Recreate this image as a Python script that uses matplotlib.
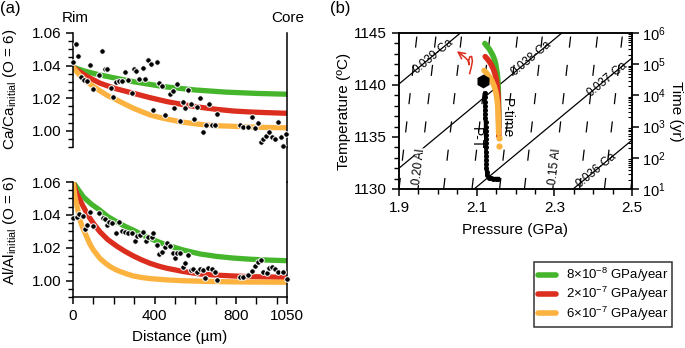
import numpy as np
import matplotlib
matplotlib.use("Agg")
import matplotlib.pyplot as plt
from matplotlib.lines import Line2D
from matplotlib.ticker import MultipleLocator, FixedLocator, LogLocator, NullFormatter

plt.rcParams['font.family'] = ['Liberation Sans', 'DejaVu Sans']
plt.rcParams['mathtext.fontset'] = 'custom'
plt.rcParams['mathtext.rm'] = 'Liberation Sans'
plt.rcParams['mathtext.it'] = 'Liberation Sans:italic'
plt.rcParams['mathtext.bf'] = 'Liberation Sans:bold'
plt.rcParams['lines.scale_dashes'] = False

# ---------------- data: panel (a) ----------------
ca_dist = [0, 15, 26, 41, 54, 70, 83, 100, 128, 141, 157, 168, 186, 198, 211, 226, 239, 255,
           272, 291, 298, 309, 326, 342, 353, 366, 381, 394, 411, 424, 439, 451, 476, 489,
           496, 509, 525, 538, 550, 566, 577, 594, 607, 623, 636, 653, 669, 680, 697, 708,
           819, 836, 860, 877, 893, 910, 921, 934, 947, 964, 975, 992, 1008, 1019, 1032, 1045]
ca_val = [1.0419, 1.0534, 1.0456, 1.0329, 1.0312, 1.0306, 1.0403, 1.0257, 1.0343, 1.0489,
          1.0380, 1.0378, 1.0265, 1.0205, 1.0298, 1.0306, 1.0308, 1.0358, 1.0310, 1.0234,
          1.0376, 1.0368, 1.0316, 1.0388, 1.0316, 1.0436, 1.0411, 1.0129, 1.0425, 1.0296,
          1.0275, 1.0097, 1.0226, 1.0242, 1.0138, 1.0286, 1.0057, 1.0175, 1.0138, 1.0247,
          1.0166, 1.0070, 1.0146, 1.0199, 0.9994, 1.0037, 1.0164, 1.0035, 1.0037, 1.0103,
          1.0037, 1.0025, 1.0020, 1.0082, 1.0016, 1.0049, 0.9930, 0.9947, 0.9967, 0.9994,
          0.9959, 0.9951, 1.0051, 0.9959, 0.9907, 0.9979]

al_dist = [0, 18, 29, 47, 59, 70, 83, 100, 129, 146, 157, 169, 178, 190, 211, 226, 239, 255,
           272, 288, 304, 316, 329, 345, 358, 370, 386, 394, 411, 424, 438, 451, 460, 476,
           489, 501, 509, 525, 538, 550, 566, 577, 591, 607, 623, 636, 648, 664, 680, 697,
           708, 820, 836, 861, 877, 893, 910, 921, 934, 950, 963, 975, 991, 1008, 1032, 1049]
al_val = [1.0382, 1.0384, 1.0408, 1.0392, 1.0311, 1.0337, 1.0418, 1.0331, 1.0414, 1.0378,
          1.0372, 1.0337, 1.0358, 1.0348, 1.0291, 1.0354, 1.0303, 1.0297, 1.0291, 1.0287,
          1.0240, 1.0271, 1.0277, 1.0297, 1.0242, 1.0267, 1.0263, 1.0287, 1.0216, 1.0162,
          1.0176, 1.0202, 1.0230, 1.0210, 1.0170, 1.0135, 1.0166, 1.0168, 1.0085, 1.0109,
          1.0158, 1.0065, 1.0069, 1.0055, 1.0069, 1.0065, 1.0014, 1.0079, 1.0069, 1.0055,
          1.0004, 1.0020, 1.0020, 1.0034, 1.0059, 1.0089, 1.0115, 1.0125, 1.0055, 1.0049,
          1.0075, 1.0085, 1.0069, 1.0051, 1.0055, 1.0012]

# model profiles (Ca)
ca_green_x = [0, 60, 130, 200, 300, 450, 600, 750, 900, 1050]
ca_green_y = [1.039, 1.0365, 1.0343, 1.0325, 1.0300, 1.0270, 1.0250, 1.0237, 1.0229, 1.0224]
ca_red_x = [0, 35, 69, 132, 210, 296, 378, 460, 541, 623, 705, 787, 870, 950, 1050]
ca_red_y = [1.039, 1.0360, 1.0333, 1.0292, 1.0258, 1.0230, 1.0203, 1.0179, 1.0160, 1.0144,
            1.0131, 1.0121, 1.0115, 1.0111, 1.0107]
ca_orange_x = [0, 30, 67, 100, 132, 170, 214, 255, 296, 337, 378, 420, 460, 525, 623, 700, 787, 870, 950, 1050]
ca_orange_y = [1.039, 1.0345, 1.0302, 1.0272, 1.0245, 1.0215, 1.0189, 1.0163, 1.0138, 1.0117,
               1.0097, 1.0083, 1.0072, 1.0055, 1.0039, 1.0031, 1.0027, 1.0023, 1.0020, 1.0018]

# model profiles (Al)
al_green_x = [0, 25, 51, 90, 132, 170, 214, 255, 296, 337, 378, 420, 460, 541, 623, 705, 787, 870, 950, 1050]
al_green_y = [1.060, 1.0555, 1.0509, 1.0465, 1.0428, 1.0390, 1.0358, 1.0330, 1.0307, 1.0280,
              1.0257, 1.0235, 1.0216, 1.0186, 1.0162, 1.0147, 1.0137, 1.0130, 1.0125, 1.0121]
al_red_x = [0, 18, 51, 75, 100, 132, 170, 214, 255, 296, 337, 378, 420, 460, 541, 623, 705, 787, 870, 950, 1050]
al_red_y = [1.060, 1.0529, 1.0449, 1.0395, 1.0348, 1.0297, 1.0250, 1.0210, 1.0178, 1.0150,
            1.0126, 1.0105, 1.0088, 1.0075, 1.0055, 1.0040, 1.0033, 1.0028, 1.0024, 1.0022, 1.0020]
al_orange_x = [0, 10, 22, 34, 50, 67, 83, 100, 132, 160, 182, 210, 231, 265, 296, 340, 378, 420, 460, 541, 623, 705, 787, 870, 1050]
al_orange_y = [1.060, 1.0509, 1.0440, 1.0368, 1.0315, 1.0267, 1.0222, 1.0186, 1.0135, 1.0105,
               1.0085, 1.0066, 1.0055, 1.0040, 1.0028, 1.0018, 1.0012, 1.0008, 1.0004, 0.9999,
               0.9996, 0.9994, 0.9992, 0.9991, 0.9990]

# ---------------- data: panel (b) ----------------
ca_iso_labels = ["0.039-Ca", "0.038-Ca", "0.037-Ca", "0.036-Ca"]
ca_iso_T_at_19 = [1140.1, 1132.0, 1124.0, 1116.1]     # T (degC) of isopleth at P = 1.9 GPa
ca_iso_T_at_25 = [1158.7, 1150.6, 1142.6, 1134.7]     # T (degC) of isopleth at P = 2.5 GPa
ca_label_P = [1.988, 2.241, 2.435, 2.408]
ca_label_T = [1142.8, 1142.6, 1140.6, 1131.85]

al_iso_P_bottom = [1.900, 1.949, 2.015, 2.088, 2.159, 2.223, 2.296, 2.365, 2.429, 2.497]  # at 1130 degC
al_iso_P_top = [1.947, 1.996, 2.062, 2.135, 2.206, 2.270, 2.343, 2.412, 2.476, 2.544]     # at 1145 degC
al_label_text = ["0.20 Al", "0.15 Al"]
al_label_P = [1.953, 2.301]
al_label_T = [1132.15, 1132.15]

pt_P = [2.121, 2.121, 2.121, 2.122, 2.122, 2.122, 2.122, 2.123, 2.123, 2.123, 2.123, 2.124,
        2.124, 2.124, 2.124, 2.125, 2.125, 2.125, 2.125, 2.126, 2.127, 2.131, 2.137, 2.143,
        2.149, 2.155]
pt_T = [1139.2, 1138.8, 1138.4, 1138.0, 1137.6, 1137.2, 1136.8, 1136.4, 1136.0, 1135.6,
        1135.2, 1134.8, 1134.4, 1134.0, 1133.6, 1133.2, 1132.8, 1132.4, 1132.0, 1131.6,
        1131.3, 1131.1, 1131.05, 1131.0, 1131.0, 1131.0]
start_P = [2.117]
start_T = [1140.35]

green_time = [4.6e5, 4.0e5, 3.0e5, 2.0e5, 1.4e5, 1.0e5, 7e4, 5e4, 3e4, 2e4, 1e4, 3e3, 1e3]
green_P = [2.121, 2.125, 2.133, 2.141, 2.146, 2.149, 2.151, 2.153, 2.1546, 2.1554, 2.156, 2.1568, 2.157]
red_time = [1.75e5, 1.5e5, 1.2e5, 1e5, 7e4, 5e4, 3e4, 2e4, 1e4, 3e3, 1e3, 5e2]
red_P = [2.122, 2.127, 2.133, 2.137, 2.143, 2.147, 2.151, 2.153, 2.155, 2.1564, 2.1568, 2.157]
orange_time = [6.3e4, 5e4, 4e4, 3e4, 2e4, 1.4e4, 1e4, 5e3, 3e3, 1e3, 6e2]
orange_P = [2.119, 2.127, 2.133, 2.139, 2.145, 2.1486, 2.151, 2.154, 2.155, 2.1564, 2.1566]
orange_dot_time = [420, 235]
orange_dot_P = [2.1567, 2.1568]

legend_labels = [r"8×10$^{\mathregular{-8}}$ GPa/year",
                 r"2×10$^{\mathregular{-7}}$ GPa/year",
                 r"6×10$^{\mathregular{-7}}$ GPa/year"]

GREEN = '#45b52c'
RED = '#dc2e1e'
ORANGE = '#fbb23f'

W, H = 685, 348
fig = plt.figure(figsize=(W / 100, H / 100), dpi=100)

def fx(px):
    return px / W

def fy(py):
    return 1 - py / H

axA1 = fig.add_axes([fx(73), fy(147), fx(214), 114 / H])
axA2 = fig.add_axes([fx(73), fy(297), fx(214), 115 / H])
axB = fig.add_axes([fx(399), fy(189), fx(233), 156 / H])

TICKFS = 11
for ax in (axA1, axA2):
    ax.set_xlim(0, 1050)
    ax.set_ylim(0.99, 1.06)
    ax.spines['top'].set_visible(False)
    for s in ax.spines.values():
        s.set_linewidth(1.1)
    ax.yaxis.set_major_locator(FixedLocator([1.00, 1.02, 1.04, 1.06]))
    ax.yaxis.set_minor_locator(MultipleLocator(0.005))
    ax.set_yticklabels(["1.00", "1.02", "1.04", "1.06"])
    ax.tick_params(axis='y', which='major', length=5, width=1.1, labelsize=TICKFS, direction='out', right=False)
    ax.tick_params(axis='y', which='minor', length=3.5, width=1.0, direction='out', right=False)

axA1.spines['bottom'].set_visible(False)
axA1.set_xticks([])
axA2.xaxis.set_major_locator(FixedLocator([0, 400, 800, 1050]))
axA2.xaxis.set_minor_locator(FixedLocator([100, 200, 300, 500, 600, 700, 900, 1000]))
axA2.set_xticklabels(["0", "400", "800", "1050"])
axA2.tick_params(axis='x', which='major', length=5, width=1.1, labelsize=TICKFS, direction='out')
axA2.tick_params(axis='x', which='minor', length=5, width=1.0, direction='out')
axA2.set_xlabel("Distance (µm)", fontsize=11, labelpad=5)

lwc = 3.8
axA1.plot(ca_green_x, ca_green_y, color=GREEN, lw=lwc, solid_capstyle='round', zorder=2)
axA1.plot(ca_red_x, ca_red_y, color=RED, lw=lwc, solid_capstyle='round', zorder=2)
axA1.plot(ca_orange_x, ca_orange_y, color=ORANGE, lw=lwc, solid_capstyle='round', zorder=2)
axA1.plot(ca_dist, ca_val, 'o', color='black', ms=4, mec='white', mew=0.7, zorder=3, clip_on=False)

axA2.plot(al_green_x, al_green_y, color=GREEN, lw=lwc, solid_capstyle='round', zorder=2)
axA2.plot(al_red_x, al_red_y, color=RED, lw=lwc, solid_capstyle='round', zorder=2)
axA2.plot(al_orange_x, al_orange_y, color=ORANGE, lw=lwc, solid_capstyle='round', zorder=2)
axA2.plot(al_dist, al_val, 'o', color='black', ms=4, mec='white', mew=0.7, zorder=3, clip_on=False)

# continuous right spine between panels
fig.add_artist(Line2D([fx(287), fx(287)], [fy(147), fy(182)], color='black', lw=1.1))

fig.text(fx(10), fy(89), r"Ca/Ca$_{\mathregular{initial}}$ (O = 6)", rotation=90,
         ha='center', va='center', fontsize=11)
fig.text(fx(10), fy(230), r"Al/Al$_{\mathregular{initial}}$ (O = 6)", rotation=90,
         ha='center', va='center', fontsize=11)
fig.text(fx(75), fy(18), "Rim", ha='center', va='center', fontsize=11)
fig.text(fx(288), fy(18), "Core", ha='center', va='center', fontsize=11)
fig.text(fx(0), fy(9), "(a)", ha='left', va='center', fontsize=12)
fig.text(fx(330), fy(9), "(b)", ha='left', va='center', fontsize=12)

# ---------------- panel (b) ----------------
axB.set_xlim(1.9, 2.5)
axB.set_ylim(1130, 1145)
for s in axB.spines.values():
    s.set_linewidth(1.1)
axB.xaxis.set_major_locator(FixedLocator([1.9, 2.1, 2.3, 2.5]))
axB.xaxis.set_minor_locator(MultipleLocator(0.05))
axB.set_xticklabels(["1.9", "2.1", "2.3", "2.5"])
axB.yaxis.set_major_locator(FixedLocator([1130, 1135, 1140, 1145]))
axB.yaxis.set_minor_locator(MultipleLocator(1))
axB.set_yticklabels(["1130", "1135", "1140", "1145"])
axB.tick_params(which='major', length=5, width=1.1, labelsize=TICKFS, direction='out')
axB.tick_params(which='minor', length=3.5, width=1.0, direction='out')
axB.set_xlabel("Pressure (GPa)", fontsize=11, labelpad=6)

axT = axB.twinx()
axT.set_yscale('log')
axT.set_ylim(10, 1e6)
axT.yaxis.set_major_locator(LogLocator(base=10, numticks=10))
axT.yaxis.set_minor_locator(LogLocator(base=10, subs=np.arange(2, 10), numticks=10))
axT.yaxis.set_minor_formatter(NullFormatter())
axT.tick_params(which='major', length=5, width=1.1, labelsize=10.5, direction='out', pad=2)
axT.tick_params(which='minor', length=3, width=0.8, direction='in')
for s in axT.spines.values():
    s.set_linewidth(1.1)

fig.text(fx(344), fy(111), "Temperature (ºC)", rotation=90, ha='center', va='center', fontsize=11)
fig.text(fx(676), fy(111), "Time (yr)", rotation=270, ha='center', va='center', fontsize=11)

# Ca isopleths (solid)
for lab, t0, t1, lp, lt in zip(ca_iso_labels, ca_iso_T_at_19, ca_iso_T_at_25, ca_label_P, ca_label_T):
    axB.plot([1.9, 2.5], [t0, t1], color='black', lw=0.9, zorder=1)
    axB.text(lp, lt, lab, rotation=39.7, ha='center', va='center', fontsize=8.5,
             rotation_mode='anchor', zorder=2)

# Al isopleths (dashed)
for pb, pt in zip(al_iso_P_bottom, al_iso_P_top):
    axB.plot([pb, pt], [1130, 1145], color='black', lw=0.9, dashes=(8.0, 12.5), zorder=1)
for lab, lp, lt in zip(al_label_text, al_label_P, al_label_T):
    axB.text(lp, lt, lab, rotation=83.4, ha='center', va='center', fontsize=8.5,
             rotation_mode='anchor', zorder=2,
             bbox=dict(facecolor='white', edgecolor='none', pad=0.3))

# P-time curves on the time axis
axT.plot(green_P, green_time, color=GREEN, lw=4, solid_capstyle='round', zorder=3)
axT.plot(red_P, red_time, color=RED, lw=4, solid_capstyle='round', zorder=4)
axT.plot(orange_P, orange_time, color=ORANGE, lw=4, solid_capstyle='round', zorder=5)
axT.plot(orange_dot_P, orange_dot_time, 'o', color=ORANGE, ms=4.5, mew=0, zorder=5)

# P-T path (temperature axis) drawn on top
axT.plot(pt_P, pt_T, color='black', lw=2.6, marker='o', ms=3.6, mew=0,
         transform=axB.transData, zorder=6)
axT.plot(start_P, start_T, 'h', color='black', ms=10, mew=0, transform=axB.transData, zorder=7)

# red looped arrow
loop_P = [2.082, 2.086, 2.089, 2.087, 2.082, 2.079, 2.081, 2.078, 2.070, 2.060]
loop_T = [1141.1, 1141.7, 1142.3, 1142.75, 1142.7, 1142.25, 1141.95, 1142.35, 1142.65, 1142.95]
axT.plot(loop_P, loop_T, color=RED, lw=1.1, transform=axB.transData, zorder=6)
axT.annotate("", xy=(2.049, 1143.25), xytext=(2.061, 1142.92),
             xycoords=axB.transData, textcoords=axB.transData,
             arrowprops=dict(arrowstyle='->', color=RED, lw=1.1, mutation_scale=12,
                             shrinkA=0, shrinkB=0), zorder=6)

axB.text(2.177, 1136.8, "P-time", rotation=270, ha='center', va='center', fontsize=10, zorder=8)
axB.text(2.097, 1134.9, "P-T", rotation=270, ha='center', va='center', fontsize=10, zorder=8)

# legend
handles = [Line2D([], [], color=c, lw=4, solid_capstyle='round') for c in (GREEN, RED, ORANGE)]
leg = fig.legend(handles, legend_labels, loc='upper left', bbox_to_anchor=(fx(534), fy(262)),
                 fontsize=9.5, frameon=True, fancybox=False, edgecolor='black',
                 handlelength=1.4, handletextpad=0.7, labelspacing=0.08, borderpad=0.3,
                 borderaxespad=0)
leg.get_frame().set_linewidth(1.1)

fig.savefig("out.png", dpi=100)
